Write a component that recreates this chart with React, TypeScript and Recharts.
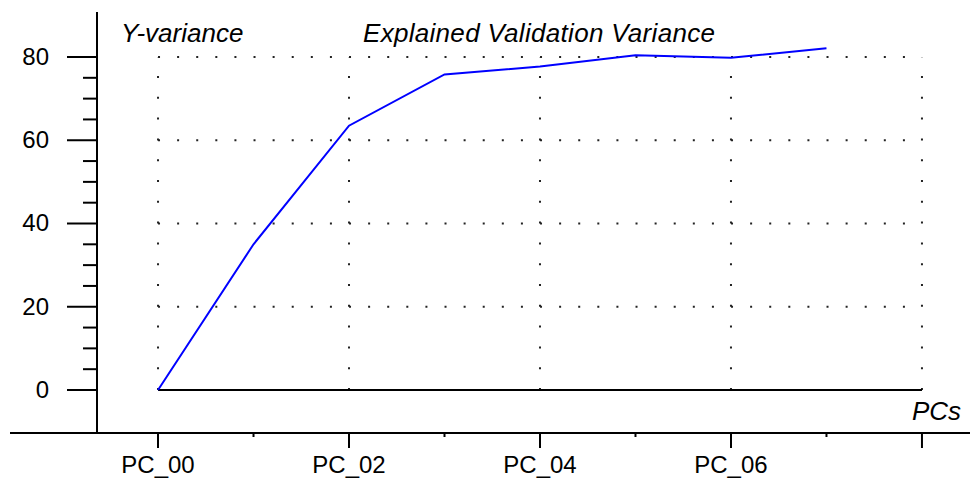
import { LineChart, Line, XAxis, YAxis, ReferenceLine } from 'recharts';

// components along the x axis
const categories = ['PC_00', 'PC_01', 'PC_02', 'PC_03', 'PC_04', 'PC_05', 'PC_06', 'PC_07'];
// explained validation variance (%)
const variance = [0, 35, 63.5, 75.8, 77.7, 80.4, 79.8, 82.1];

const xTicks = [0, 1, 2, 3, 4, 5, 6, 7, 8];
const yTicks = [0, 5, 10, 15, 20, 25, 30, 35, 40, 45, 50, 55, 60, 65, 70, 75, 80];
const hGrid = [20, 40, 60, 80];
const vGrid = [0, 2, 4, 6, 8];

// axis ranges chosen so the plot box matches the original frame
const X_DOMAIN: [number, number] = [-0.639, 8.503];
const Y_DOMAIN: [number, number] = [-10.33, 90.81];

const data = categories.map((name, i) => ({ i, name, value: variance[i] }));

const FONT = '"Liberation Sans", Arial, sans-serif';

const YTick = ({ x, y, payload }: any) => {
  const v = payload.value;
  const major = v % 20 === 0;
  return (
    <g>
      <line x1={x - (major ? 30 : 14)} x2={x} y1={y} y2={y} stroke="#000" strokeWidth={2} />
      {major && (
        <text x={x - 48} y={y} dy={8} textAnchor="end" fontSize={24} fontFamily={FONT} fill="#000">
          {v}
        </text>
      )}
    </g>
  );
};

const XTick = ({ x, y, payload }: any) => {
  const v = payload.value;
  const major = v % 2 === 0;
  const label = major ? categories[v] : undefined;
  return (
    <g>
      <line x1={x} x2={x} y1={y} y2={y + (major ? 15 : 4)} stroke="#000" strokeWidth={2} />
      {label && (
        <text x={x} y={y + 40} textAnchor="middle" fontSize={24} fontFamily={FONT} fill="#000">
          {label}
        </text>
      )}
    </g>
  );
};

export default function App() {
  return (
    <div style={{ position: 'absolute', left: 0, top: 0, width: 970, height: 478, background: '#fff' }}>
      <LineChart width={970} height={478} data={data} margin={{ top: 12, right: 0, bottom: 0, left: 0 }}>
        <XAxis
          dataKey="i"
          type="number"
          domain={X_DOMAIN}
          allowDataOverflow
          ticks={xTicks}
          interval={0}
          tickLine={false}
          tickSize={0}
          tickMargin={0}
          height={45}
          axisLine={{ stroke: '#000', strokeWidth: 2 }}
          tick={<XTick />}
        />
        <YAxis
          type="number"
          domain={Y_DOMAIN}
          allowDataOverflow
          ticks={yTicks}
          interval={0}
          tickLine={false}
          tickSize={0}
          tickMargin={0}
          width={97}
          axisLine={{ stroke: '#000', strokeWidth: 2 }}
          tick={<YTick />}
        />
        {hGrid.map((v) => (
          <ReferenceLine
            key={'h' + v}
            segment={[{ x: 0, y: v }, { x: 8, y: v }]}
            stroke="#222"
            strokeWidth={2}
            strokeDasharray="2 17.1"
          />
        ))}
        {vGrid.map((v) => (
          <ReferenceLine
            key={'v' + v}
            segment={[{ x: v, y: 0 }, { x: v, y: 80 }]}
            stroke="#222"
            strokeWidth={2}
            strokeDasharray="2 18.8"
          />
        ))}
        <ReferenceLine segment={[{ x: 0, y: 0 }, { x: 8, y: 0 }]} stroke="#000" strokeWidth={2} />
        {/* bottom axis continues past the y axis to the left */}
        <ReferenceLine
          segment={[{ x: -1.55, y: Y_DOMAIN[0] }, { x: X_DOMAIN[0], y: Y_DOMAIN[0] }]}
          stroke="#000"
          strokeWidth={2}
          ifOverflow="visible"
        />
        <Line
          type="linear"
          dataKey="value"
          stroke="#0000ff"
          strokeWidth={2}
          dot={false}
          isAnimationActive={false}
        />
      </LineChart>
      <svg width={970} height={478} style={{ position: 'absolute', left: 0, top: 0, pointerEvents: 'none' }}>
        <text x={121} y={42} fontSize={26} fontStyle="italic" fontFamily={FONT} fill="#000">
          Y-variance
        </text>
        <text x={363} y={42} fontSize={26} fontStyle="italic" letterSpacing={0.3} fontFamily={FONT} fill="#000">
          Explained Validation Variance
        </text>
        <text x={912} y={420} fontSize={26} fontStyle="italic" fontFamily={FONT} fill="#000">
          PCs
        </text>
      </svg>
    </div>
  );
}
